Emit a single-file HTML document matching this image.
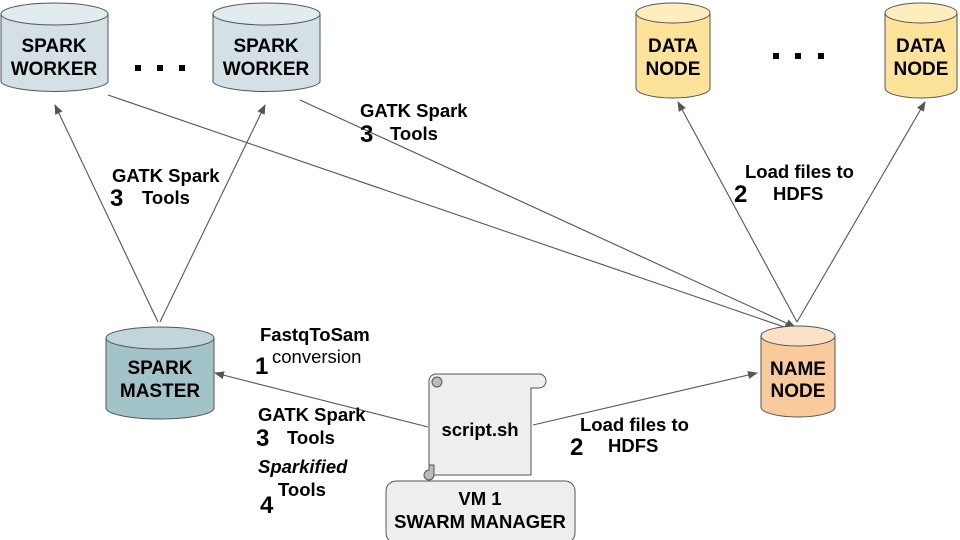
<!DOCTYPE html>
<html><head><meta charset="utf-8"><style>
html,body{margin:0;padding:0;background:#fff;}
svg{display:block;font-family:"Liberation Sans",sans-serif;}
.b{font-weight:bold;font-size:18.5px;fill:#000;}
.t{font-weight:bold;font-size:19px;fill:#000;}
.n{font-weight:bold;font-size:24px;fill:#000;}
</style></head><body>
<svg width="960" height="540" viewBox="0 0 960 540" xmlns="http://www.w3.org/2000/svg">
<defs>
<marker id="a" markerWidth="10" markerHeight="8" refX="9" refY="4" orient="auto" markerUnits="userSpaceOnUse">
<path d="M0,0 L10,4 L0,8 Z" fill="#555"/></marker>
</defs>
<g stroke="#555" stroke-width="1.1" fill="none" marker-end="url(#a)">
<line x1="158" y1="322" x2="55" y2="105"/>
<line x1="160" y1="322" x2="265" y2="105"/>
<line x1="300" y1="100" x2="795" y2="327"/>
<line x1="108" y1="95" x2="793" y2="330"/>
<line x1="797" y1="322" x2="678" y2="102"/>
<line x1="797" y1="322" x2="925" y2="102"/>
<line x1="428" y1="427" x2="215" y2="373"/>
<line x1="533" y1="425" x2="757" y2="373"/>
</g>
<g stroke="#555" stroke-width="1">
<path d="M1,14 V82 A54,11 0 0 0 108,82 V14" fill="#d3e0e5"/>
<ellipse cx="54.5" cy="14" rx="53.5" ry="11" fill="#e2ebee"/>
<path d="M213,14 V82 A54,11 0 0 0 320,82 V14" fill="#d3e0e5"/>
<ellipse cx="266.5" cy="14" rx="53.5" ry="11" fill="#e2ebee"/>
<path d="M636,13 V88 A37,10 0 0 0 710,88 V13" fill="#fde29a"/>
<ellipse cx="673" cy="13" rx="37" ry="10" fill="#feeebe"/>
<path d="M885,13 V88 A36,10 0 0 0 957,88 V13" fill="#fde29a"/>
<ellipse cx="921" cy="13" rx="36" ry="10" fill="#feeebe"/>
<path d="M106,338 V408 A54,11 0 0 0 214,408 V338" fill="#a2c4c9"/>
<ellipse cx="160" cy="338" rx="54" ry="11" fill="#c0d6da"/>
<path d="M761,336 V407 A37,10 0 0 0 835,407 V336" fill="#f9cb9c"/>
<ellipse cx="798" cy="336" rx="37" ry="10" fill="#fbe1c7"/>
</g>
<text class="t" text-anchor="middle" x="54" y="52">SPARK</text>
<text class="t" text-anchor="middle" x="54" y="75">WORKER</text>
<text class="t" text-anchor="middle" x="266" y="52">SPARK</text>
<text class="t" text-anchor="middle" x="266" y="75">WORKER</text>
<text class="t" text-anchor="middle" x="673" y="52">DATA</text>
<text class="t" text-anchor="middle" x="673" y="75">NODE</text>
<text class="t" text-anchor="middle" x="921" y="52">DATA</text>
<text class="t" text-anchor="middle" x="921" y="75">NODE</text>
<text class="t" text-anchor="middle" x="160" y="374">SPARK</text>
<text class="t" text-anchor="middle" x="160" y="397">MASTER</text>
<text class="t" text-anchor="middle" x="798" y="375">NAME</text>
<text class="t" text-anchor="middle" x="798" y="397">NODE</text>
<g fill="#000">
<rect x="135" y="65" width="6" height="6"/><rect x="157" y="65" width="6" height="6"/><rect x="179" y="65" width="6" height="6"/>
<rect x="773" y="53" width="6" height="6"/><rect x="795" y="53" width="6" height="6"/><rect x="818" y="53" width="6" height="6"/>
</g>
<rect x="386" y="481" width="189" height="62" rx="10" fill="#eeeeee" stroke="#555"/>
<text class="b" text-anchor="middle" x="480" y="505">VM 1</text>
<text class="b" text-anchor="middle" x="480" y="528">SWARM MANAGER</text>
<g stroke="#555" stroke-width="1" fill="#eeeeee">
<path d="M429,381 V475 H531 V388 H539 A7,7 0 0 0 539,374 H436 A7,7 0 0 0 429,381 Z"/>
<path d="M429,470 A5,5 0 1 0 434,475 V465 H429 Z" fill="#bbb"/>
<circle cx="437" cy="382" r="5" fill="#bbb"/>
</g>
<text class="b" text-anchor="middle" x="480" y="436">script.sh</text>
<text class="b" x="112" y="182">GATK Spark</text>
<text class="n" x="110" y="206">3</text><text class="b" x="142" y="204">Tools</text>
<text class="b" x="360" y="117">GATK Spark</text>
<text class="n" x="360" y="142">3</text><text class="b" x="390" y="140">Tools</text>
<text class="b" x="745" y="178">Load files to</text>
<text class="n" x="734" y="202">2</text><text class="b" x="773" y="200">HDFS</text>
<text class="b" x="260" y="341">FastqToSam</text>
<text class="n" x="255" y="374">1</text><text x="272" y="363" style="font-size:18.5px">conversion</text>
<text class="b" x="258" y="421">GATK Spark</text>
<text class="n" x="256" y="446">3</text><text class="b" x="287" y="444">Tools</text>
<text class="b" x="258" y="473" font-style="italic">Sparkified</text>
<text class="b" x="278" y="496">Tools</text>
<text class="n" x="260" y="513">4</text>
<text class="b" x="580" y="431">Load files to</text>
<text class="n" x="570" y="455">2</text><text class="b" x="608" y="452">HDFS</text>
</svg>
</body></html>
